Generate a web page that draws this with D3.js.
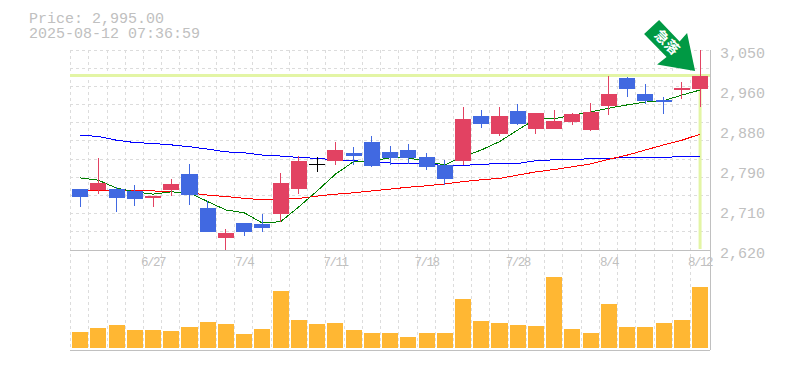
<!DOCTYPE html>
<html>
<head>
    <meta charset="utf-8">
    <title>Price chart</title>
    <script src="https://d3js.org/d3.v7.min.js"></script>
    <style>
        body { margin: 0; background: #fff; }
        svg { display: block; }
        text { font-family: "Liberation Mono", monospace; fill: #c0c0c0; }
        .axis path, .axis line { display: none; }
        .grid { stroke: #dcdcdc; stroke-dasharray: 3,3; shape-rendering: crispEdges; }
        .frame { stroke: #c0c0c0; shape-rendering: crispEdges; }
        .ma { fill: none; stroke-width: 1; shape-rendering: crispEdges; }
    </style>
</head>
<body>
    <div id="chart"></div>

    <script>
    const priceLabel = "Price: 2,995.00";
    const timeLabel = "2025-08-12 07:36:59";
    const lastPrice = 2995;

    const dates = ["6/23","6/24","6/25","6/26","6/27","6/30","7/1","7/2","7/3","7/4",
        "7/7","7/8","7/9","7/10","7/11","7/14","7/15","7/16","7/17","7/18",
        "7/22","7/23","7/24","7/25","7/28","7/29","7/30","7/31","8/1","8/4",
        "8/5","8/6","8/7","8/8","8/12"];
    const dateTicks = ["6/27","7/4","7/11","7/18","7/28","8/4","8/12"];
    const priceTicks = [3050, 2964, 2878, 2792, 2706, 2620];

    const opens = [2751,2749,2751,2747,2732,2749,2783,2710,2646,2678,
        2676,2697,2751,2805,2811,2829,2852,2831,2835,2820,
        2803,2811,2908,2869,2919,2880,2880,2895,2878,2930,
        2990,2955,2942,2964,2966];
    const highs = [2751,2817,2755,2760,2736,2773,2805,2725,2665,2678,
        2697,2786,2822,2820,2852,2841,2865,2844,2848,2829,
        2813,2927,2921,2927,2934,2915,2921,2915,2936,2994,
        2992,2977,2949,2981,3050];
    const lows = [2712,2740,2702,2715,2712,2736,2717,2659,2620,2650,
        2659,2680,2740,2788,2803,2803,2798,2803,2805,2792,
        2760,2803,2882,2865,2889,2869,2880,2889,2876,2910,
        2949,2934,2912,2945,2927];
    const closes = [2734,2764,2732,2730,2736,2762,2738,2659,2656,2659,
        2667,2764,2811,2805,2835,2822,2801,2818,2818,2798,
        2773,2902,2891,2908,2891,2915,2897,2912,2917,2955,
        2966,2940,2938,2968,2995];

    const maShort = [2775,2770,2753,2745,2740,2745,2743,2724,2706,2700,
        2678,2681,2713,2747,2783,2810,2812,2818,2818,2810,
        2803,2821,2835,2853,2878,2902,2902,2910,2917,2925,
        2932,2938,2941,2953,2964];
    const maMid = [2749,2749,2748,2747,2747,2745,2743,2738,2735,2731,
        2728,2730,2731,2736,2740,2743,2747,2751,2755,2758,
        2762,2767,2771,2774,2781,2788,2793,2799,2805,2815,
        2824,2835,2846,2856,2869];
    const maLong = [2867,2864,2856,2851,2849,2846,2842,2837,2831,2829,
        2824,2822,2819,2817,2814,2812,2809,2807,2807,2804,
        2802,2802,2804,2806,2806,2812,2814,2815,2816,2817,
        2819,2819,2819,2821,2821];

    const volumes = [16000,20000,23000,18000,18000,17000,21000,26000,24000,14000,
        19000,57000,28000,24000,25000,18000,15000,15000,11000,15000,
        15000,49000,27000,25000,23000,22000,71000,19000,15000,44000,
        21000,21000,25000,28000,61000];

    const width = 785, height = 370;
    const plotLeft = 70, plotRight = 710;
    const priceTop = 50, priceBottom = 250, volumeBottom = 350;
    const upColor = "#e24262", downColor = "#4169e1", flatColor = "#000";

    const svg = d3.select("#chart").append("svg")
        .attr("width", width)
        .attr("height", height);

    const x = d3.scaleBand()
        .domain(dates)
        .range([71, 709.2])
        .paddingInner(0.12)
        .paddingOuter(0.06);
    const cx = d => x(d) + x.bandwidth() / 2;

    const y = d3.scaleLinear().domain([2620, 3050]).range([priceBottom, priceTop]);
    const yVol = d3.scaleLinear().domain([0, 80000]).range([348, 268]);

    // grid, 11 rows in the price panel and one column per day
    const gridRows = d3.range(12).map(i => 3050 - i * 430 / 11);
    svg.append("g").selectAll("line")
        .data(gridRows)
        .enter().append("line")
        .attr("class", "grid")
        .attr("x1", plotLeft).attr("x2", plotRight)
        .attr("y1", d => y(d)).attr("y2", d => y(d));
    svg.append("g").selectAll("line")
        .data(dates)
        .enter().append("line")
        .attr("class", "grid")
        .attr("x1", d => x(d) - 1.5).attr("x2", d => x(d) - 1.5)
        .attr("y1", priceTop).attr("y2", volumeBottom);

    // frame
    svg.append("line").attr("class", "frame")
        .attr("x1", plotLeft).attr("x2", plotRight).attr("y1", priceBottom).attr("y2", priceBottom);
    svg.append("line").attr("class", "frame")
        .attr("x1", plotLeft).attr("x2", plotRight).attr("y1", volumeBottom).attr("y2", volumeBottom);
    svg.append("line").attr("class", "frame")
        .attr("x1", plotRight).attr("x2", plotRight).attr("y1", priceTop).attr("y2", volumeBottom);

    // last price crosshair
    const crossColor = "#e3f5a5";
    svg.append("line")
        .attr("x1", plotLeft).attr("x2", plotRight)
        .attr("y1", y(lastPrice)).attr("y2", y(lastPrice))
        .attr("stroke", crossColor).attr("stroke-width", 3);
    svg.append("line")
        .attr("x1", cx("8/12")).attr("x2", cx("8/12"))
        .attr("y1", y(lastPrice)).attr("y2", priceBottom - 1)
        .attr("stroke", crossColor).attr("stroke-width", 3);

    // moving averages go under the candles
    const maLine = d3.line().x((d, i) => cx(dates[i])).y(d => y(d));
    [[maLong, "#0000ff"], [maMid, "#ff0000"], [maShort, "#008000"]].forEach(([values, color]) => {
        svg.append("path")
            .attr("class", "ma")
            .attr("d", maLine(values))
            .attr("stroke", color);
    });

    const candleColor = i => closes[i] > opens[i] ? upColor : closes[i] < opens[i] ? downColor : flatColor;

    const candles = svg.append("g")
        .attr("shape-rendering", "crispEdges")
        .selectAll("g")
        .data(dates)
        .enter().append("g");

    candles.append("line")
        .attr("x1", d => cx(d)).attr("x2", d => cx(d))
        .attr("y1", (d, i) => y(highs[i]))
        .attr("y2", (d, i) => y(lows[i]))
        .attr("stroke", (d, i) => candleColor(i));

    candles.append("rect")
        .attr("x", d => x(d))
        .attr("width", x.bandwidth())
        .attr("y", (d, i) => y(Math.max(opens[i], closes[i])))
        .attr("height", (d, i) => Math.max(1, Math.abs(y(opens[i]) - y(closes[i]))))
        .attr("fill", (d, i) => candleColor(i));

    // volume
    svg.append("g")
        .attr("shape-rendering", "crispEdges")
        .selectAll("rect")
        .data(dates)
        .enter().append("rect")
        .attr("x", d => x(d))
        .attr("width", x.bandwidth())
        .attr("y", (d, i) => yVol(volumes[i]))
        .attr("height", (d, i) => yVol(0) - yVol(volumes[i]))
        .attr("fill", "#ffb733");

    // axes
    const yAxis = d3.axisRight(y)
        .tickValues(priceTicks)
        .tickSize(0)
        .tickPadding(10)
        .tickFormat(d => d3.format(",")(Math.round(d / 10) * 10));
    const yAxisG = svg.append("g")
        .attr("class", "axis")
        .attr("transform", `translate(${plotRight},0)`)
        .call(yAxis);
    yAxisG.selectAll("text")
        .attr("font-size", 15)
        .attr("dy", "0.5em");

    const xAxis = d3.axisBottom(x)
        .tickValues(dateTicks)
        .tickSize(0)
        .tickPadding(7);
    const xAxisG = svg.append("g")
        .attr("class", "axis")
        .attr("transform", `translate(0,${priceBottom})`)
        .call(xAxis);
    // tall narrow labels in the original, so squeeze the letters
    xAxisG.selectAll("text")
        .attr("font-size", 12.5)
        .attr("letter-spacing", -1.5);

    // header
    svg.append("text").attr("x", 29).attr("y", 23).attr("font-size", 15).text(priceLabel);
    svg.append("text").attr("x", 29).attr("y", 38).attr("font-size", 15).text(timeLabel);

    // arrow marker, tip sits just left of the last candle
    const tipX = cx("8/12") - 5, tipY = y(lastPrice) - 4.5;
    const arrowShape = [[0, 0], [-38, -6.5], [-28.5, -14], [-51, -37], [-36, -51], [-15.5, -29.5], [-8, -38]];
    const marker = svg.append("g").attr("transform", `translate(${tipX},${tipY})`);
    marker.append("polygon")
        .attr("points", arrowShape.map(p => p.join(",")).join(" "))
        .attr("fill", "#009944");
    marker.append("text")
        .attr("transform", "translate(-28,-29) rotate(45)")
        .attr("text-anchor", "middle")
        .attr("dy", "0.36em")
        .style("font-family", '"Noto Sans CJK JP"')
        .style("font-weight", "700")
        .style("font-size", "14px")
        .style("fill", "#fff")
        .text("急落");
    </script>
</body>
</html>
